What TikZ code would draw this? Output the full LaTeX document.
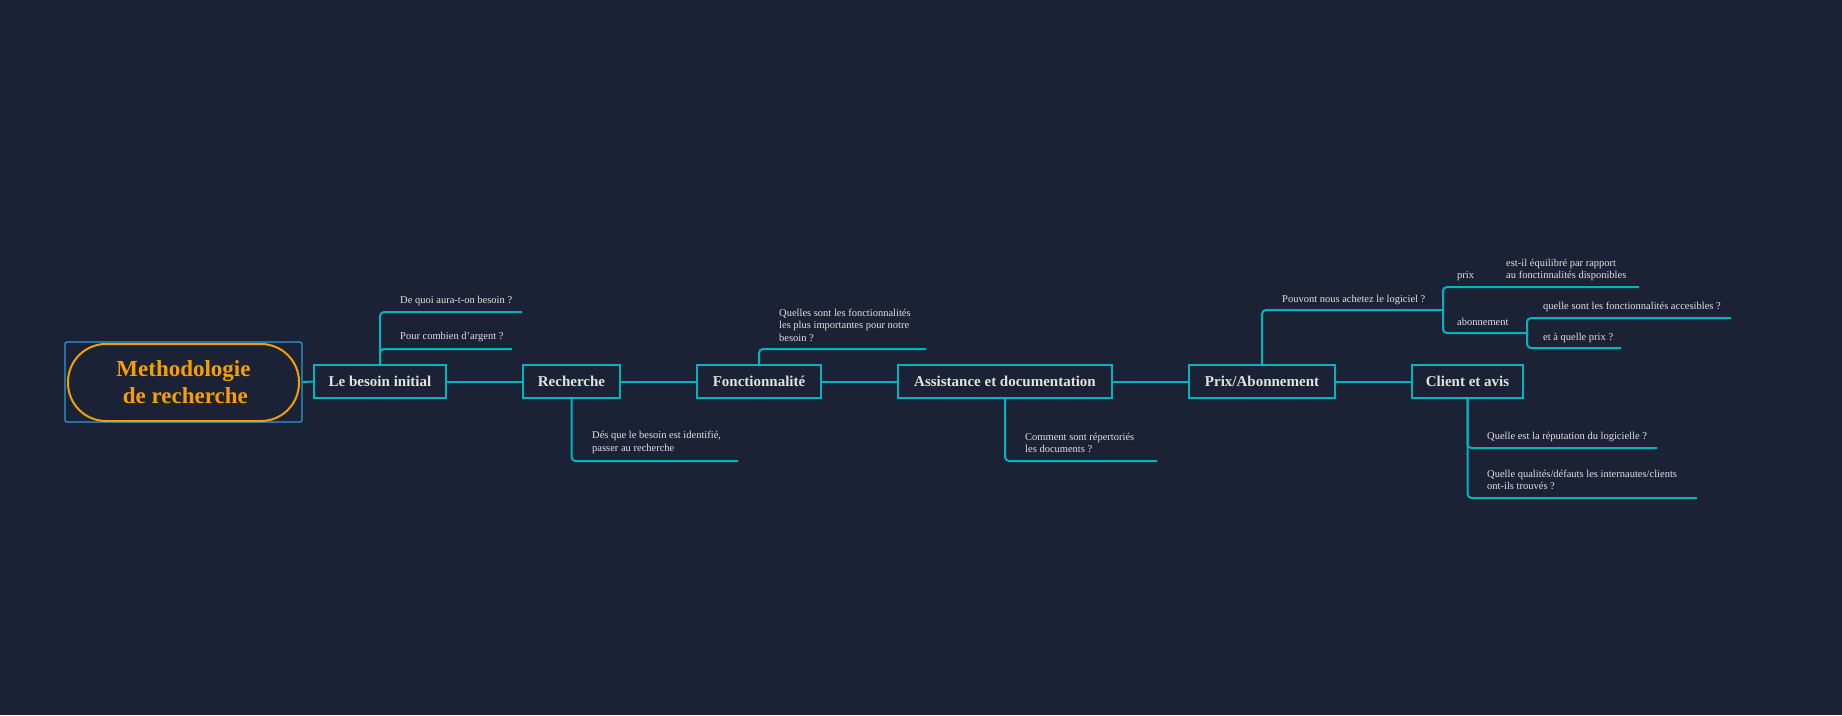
\documentclass[tikz,border=0pt]{standalone}
\usepackage{fontspec}
\setmainfont{Liberation Serif}
\definecolor{bgc}{HTML}{1B2236}
\definecolor{teal}{HTML}{00B5BD}
\definecolor{txt}{HTML}{E2E2E2}
\definecolor{orng}{HTML}{F5A000}
\definecolor{sky}{HTML}{2D9CDB}
\tikzset{
  topic/.style={draw=teal, line width=1.2pt, fill=bgc, text=txt, font=\bfseries\fontsize{15}{17}\selectfont,
    minimum height=33pt, inner sep=0pt, anchor=center},
  link/.style={draw=teal, line width=2pt, rounded corners=4pt},
  note/.style={text=txt, font=\fontsize{10.5}{12.5}\selectfont, anchor=west, align=left, inner sep=0pt}
}
\begin{document}
\begin{tikzpicture}[x=1pt,y=-1pt]
\fill[bgc] (0,0) rectangle (1842,715);
\useasboundingbox (0,0) rectangle (1842,715);

% central topic
\node[draw=sky, line width=1.2pt, rounded corners=2pt, minimum width=237pt, minimum height=80pt, inner sep=0pt] (frame) at (183.5,382) {};
\node[draw=orng, line width=2pt, rounded corners=38pt, minimum width=231pt, minimum height=77pt, inner sep=0pt,
  text=orng, font=\bfseries\fontsize{23}{27}\selectfont, align=center] (root) at (183.5,382.5) {Methodologie\\ \,de recherche};

% main topics
\node[topic, minimum width=132pt] (besoin) at (380,381.5) {Le besoin initial};
\node[topic, minimum width=97pt] (rech) at (571.5,381.5) {Recherche};
\node[topic, minimum width=124pt] (fonct) at (759,381.5) {Fonctionnalité};
\node[topic, minimum width=214pt] (assist) at (1005,381.5) {Assistance et documentation};
\node[topic, minimum width=146pt] (prix) at (1262,381.5) {Prix/Abonnement};
\node[topic, minimum width=111pt] (client) at (1467.5,381.5) {Client et avis};

% spine
\draw[link] (frame.east) -- (besoin.west);
\draw[link] (besoin.east) -- (rech.west);
\draw[link] (rech.east) -- (fonct.west);
\draw[link] (fonct.east) -- (assist.west);
\draw[link] (assist.east) -- (prix.west);
\draw[link] (prix.east) -- (client.west);

% end points of the branch lines
\coordinate (b1) at (522,312);
\coordinate (b2) at (512,349);
\coordinate (r1) at (738,461);
\coordinate (f1) at (926,349);
\coordinate (a1) at (1157,461);
\coordinate (p1) at (1443,310);
\coordinate (p2) at (1639,287);
\coordinate (p3) at (1527,333);
\coordinate (p4) at (1731,318);
\coordinate (p5) at (1621,348);
\coordinate (c1) at (1657,448);
\coordinate (c2) at (1697,498);

% branches
\draw[link] (besoin.north) |- (b1);
\draw[link] (besoin.north) |- (b2);
\draw[link] (rech.south) |- (r1);
\draw[link] (fonct.north) |- (f1);
\draw[link] (assist.south) |- (a1);
\draw[link] (prix.north) |- (p1);
\draw[link] (p1) |- (p2);
\draw[link] (p1) |- (p3);
\draw[link] (p3) |- (p4);
\draw[link] (p3) |- (p5);
\draw[link] (client.south) |- (c1);
\draw[link] (client.south) |- (c2);

% branch labels
\node[note] (n1) at (400,301) {De quoi aura-t-on besoin ?};
\node[note] (n2) at (400,337) {Pour combien d'argent ?};
\node[note] (n3) at (592,442.5) {Dés que le besoin est identifié,\\passer au recherche};
\node[note] (n4) at (779,325) {Quelles sont les fonctionnalités\\les plus importantes pour notre\\besoin ?};
\node[note] (n5) at (1025,443) {Comment sont répertoriés\\les documents ?};
\node[note] (n6) at (1282,300) {Pouvont nous achetez le logiciel ?};
\node[note] (n7) at (1457,276) {prix};
\node[note] (n8) at (1506,270) {est-il équilibré par rapport\\au fonctinnalités disponibles};
\node[note] (n9) at (1457,322) {abonnement};
\node[note] (n10) at (1543,307) {quelle sont les fonctionnalités accesibles ?};
\node[note] (n11) at (1543,338) {et à quelle prix ?};
\node[note] (n12) at (1487,437) {Quelle est la réputation du logicielle ?};
\node[note] (n13) at (1487,480) {Quelle qualités/défauts les internautes/clients\\ont-ils trouvés ?};
\end{tikzpicture}
\end{document}
